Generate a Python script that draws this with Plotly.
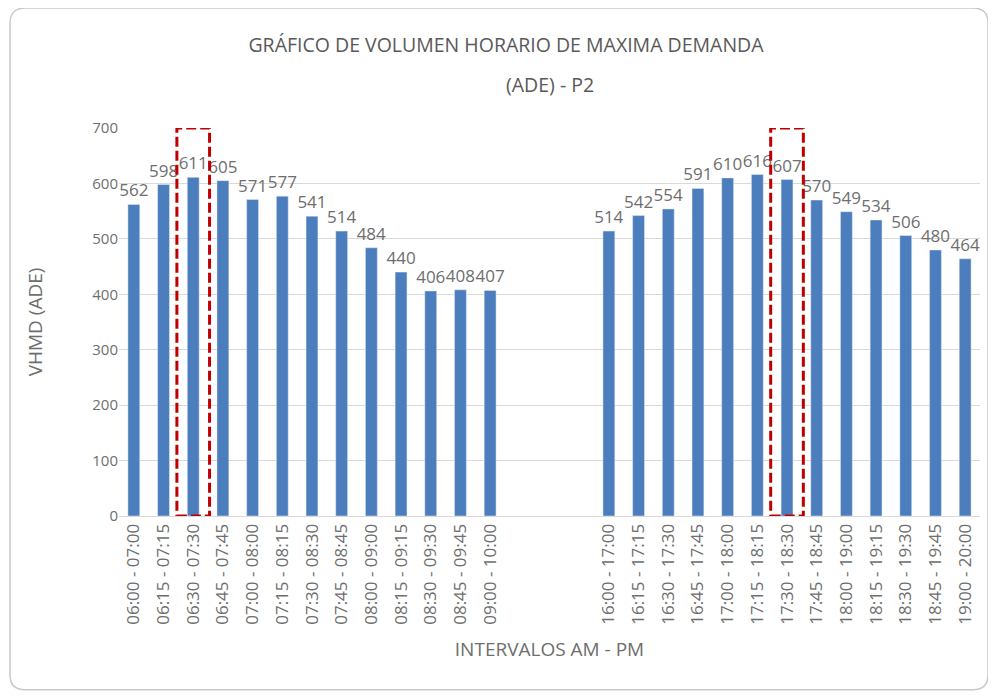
import plotly.graph_objects as go

# Intervals and volumes (ADE) - morning and afternoon periods
am_labels = ['06:00 - 07:00', '06:15 - 07:15', '06:30 - 07:30', '06:45 - 07:45',
             '07:00 - 08:00', '07:15 - 08:15', '07:30 - 08:30', '07:45 - 08:45',
             '08:00 - 09:00', '08:15 - 09:15', '08:30 - 09:30', '08:45 - 09:45',
             '09:00 - 10:00']
am_values = [562, 598, 611, 605, 571, 577, 541, 514, 484, 440, 406, 408, 407]

pm_labels = ['16:00 - 17:00', '16:15 - 17:15', '16:30 - 17:30', '16:45 - 17:45',
             '17:00 - 18:00', '17:15 - 18:15', '17:30 - 18:30', '17:45 - 18:45',
             '18:00 - 19:00', '18:15 - 19:15', '18:30 - 19:30', '18:45 - 19:45',
             '19:00 - 20:00']
pm_values = [514, 542, 554, 591, 610, 616, 607, 570, 549, 534, 506, 480, 464]

# peak hour intervals marked with the dashed box
peak_labels = ['06:30 - 07:30', '17:30 - 18:30']

gap = 3  # empty slots between AM and PM

labels = am_labels + pm_labels
values = am_values + pm_values
xpos = list(range(len(am_labels))) + [len(am_labels) + gap + i for i in range(len(pm_labels))]

gray = '#595959'
light = '#6e6e6e'

fig = go.Figure()
fig.add_trace(go.Bar(
    x=xpos, y=values, width=0.4,
    marker=dict(color='#4c7dbd'),
    text=values, textposition='outside', constraintext='none', cliponaxis=False,
    textfont=dict(size=17, color=light),
))

# dashed boxes around the peak intervals
for lab in peak_labels:
    px_ = xpos[labels.index(lab)]
    fig.add_shape(type='rect', xref='x', yref='y', x0=px_ - 0.55, x1=px_ + 0.55, y0=0, y1=700,
                  line=dict(color='#c00000', width=3, dash='10px,4px'))

# outer rounded chart border (paper coords)
x0, x1, y0, y1 = -0.1266, 1.0093, -0.448, 1.309
rx, ry = 0.0174, 0.0387
border = (f'M {x0 + rx},{y1} L {x1 - rx},{y1} Q {x1},{y1} {x1},{y1 - ry} '
          f'L {x1},{y0 + ry} Q {x1},{y0} {x1 - rx},{y0} '
          f'L {x0 + rx},{y0} Q {x0},{y0} {x0},{y0 + ry} '
          f'L {x0},{y1 - ry} Q {x0},{y1} {x0 + rx},{y1} Z')
fig.add_shape(type='path', xref='paper', yref='paper', path=border,
              line=dict(color='#c8c8c8', width=1.5), layer='below')

fig.add_annotation(text='(ADE) - P2', xref='paper', yref='paper', x=0.5, y=1.111,
                   yanchor='middle', showarrow=False, font=dict(size=19.5, color=gray))

fig.update_layout(
    width=996, height=698,
    margin=dict(l=111, r=24, t=120, b=190),
    paper_bgcolor='white', plot_bgcolor='white',
    font=dict(family='Open Sans, sans-serif', color=gray),
    title=dict(text='GRÁFICO DE VOLUMEN HORARIO DE MAXIMA DEMANDA',
               x=0.5, xanchor='center', y=0.947, yanchor='middle',
               font=dict(size=19.5, color=gray)),
    showlegend=False,
)
fig.update_xaxes(
    range=[-0.5, xpos[-1] + 0.5],
    tickmode='array', tickvals=xpos, ticktext=labels, tickangle=-90,
    tickfont=dict(size=17, color=light),
    showgrid=False, zeroline=False, showline=True, linecolor='#d9d9d9',
    title=dict(text='INTERVALOS AM - PM', font=dict(size=19, color=light), standoff=18),
)
fig.update_yaxes(
    range=[0, 700], dtick=100,
    tickfont=dict(size=15, color=light),
    showgrid=True, gridcolor='#d9d9d9', zeroline=False, ticks='',
    title=dict(text='VHMD (ADE)', font=dict(size=19, color=light), standoff=44),
)

fig.write_html('out.html')
